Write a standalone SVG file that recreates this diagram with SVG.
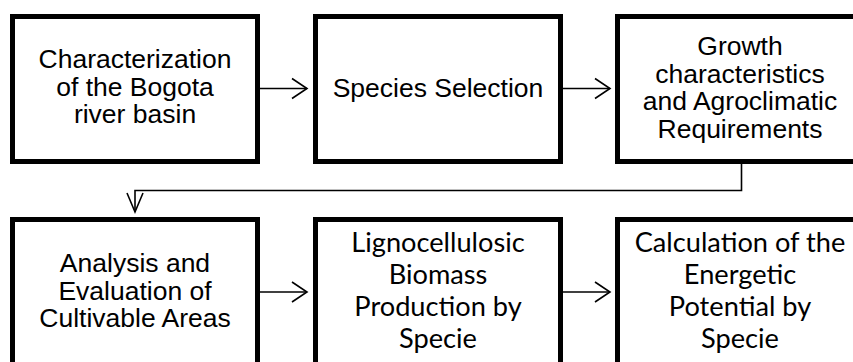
<svg xmlns="http://www.w3.org/2000/svg" width="853" height="362" viewBox="0 0 853 362">
<style>
.box{fill:#fff;stroke:#000;stroke-width:5}
.a{font-family:"Liberation Sans",Arial,sans-serif;font-size:26.5px;fill:#000;text-anchor:middle}
.c{font-family:Lato,"Open Sans",sans-serif;font-size:27.2px;fill:#000;text-anchor:middle}
.ln{fill:none;stroke:#000;stroke-width:1.6}
</style>
<rect width="853" height="362" fill="#fff"/>
<g id="connectors">
<line class="ln" x1="260" y1="88.5" x2="307" y2="88.5"/>
<polyline class="ln" points="292,78.5 307,88.5 292,98.5"/>
<line class="ln" x1="563" y1="88.5" x2="610" y2="88.5"/>
<polyline class="ln" points="595,78.5 610,88.5 595,98.5"/>
<polyline class="ln" points="741.5,164 741.5,190.5 135,190.5 135,212"/>
<polyline class="ln" points="127,193 135,212 143,193"/>
<line class="ln" x1="260" y1="292" x2="307" y2="292"/>
<polyline class="ln" points="292,282 307,292 292,302"/>
<line class="ln" x1="563" y1="292" x2="610" y2="292"/>
<polyline class="ln" points="595,282 610,292 595,302"/>
</g>
<g id="n1">
<rect class="box" x="12.5" y="16.5" width="245" height="145"/>
<text class="a" x="135"><tspan x="135" y="68">Characterization</tspan><tspan x="135" y="95.5">of the Bogota</tspan><tspan x="135" y="123">river basin</tspan></text>
</g>
<g id="n2">
<rect class="box" x="315.5" y="16.5" width="245" height="145"/>
<text class="a" x="438" y="97">Species Selection</text>
</g>
<g id="n3">
<rect class="box" x="617.5" y="16.5" width="245" height="145"/>
<text class="a" x="740"><tspan x="740" y="55">Growth</tspan><tspan x="740" y="82.5">characteristics</tspan><tspan x="740" y="110">and Agroclimatic</tspan><tspan x="740" y="137.5">Requirements</tspan></text>
</g>
<g id="n4">
<rect class="box" x="12.5" y="219.5" width="245" height="145"/>
<text class="a" x="135"><tspan x="135" y="272">Analysis and</tspan><tspan x="135" y="299.5">Evaluation of</tspan><tspan x="135" y="327">Cultivable Areas</tspan></text>
</g>
<g id="n5">
<rect class="box" x="315.5" y="219.5" width="245" height="145"/>
<text class="c" x="438"><tspan x="438" y="252">Lignocellulosic</tspan><tspan x="438" y="284">Biomass</tspan><tspan x="438" y="316">Production by</tspan><tspan x="438" y="348">Specie</tspan></text>
</g>
<g id="n6">
<rect class="box" x="617.5" y="219.5" width="245" height="145"/>
<text class="c" x="740"><tspan x="740" y="252">Calculation of the</tspan><tspan x="740" y="284">Energetic</tspan><tspan x="740" y="316">Potential by</tspan><tspan x="740" y="348">Specie</tspan></text>
</g>
</svg>
